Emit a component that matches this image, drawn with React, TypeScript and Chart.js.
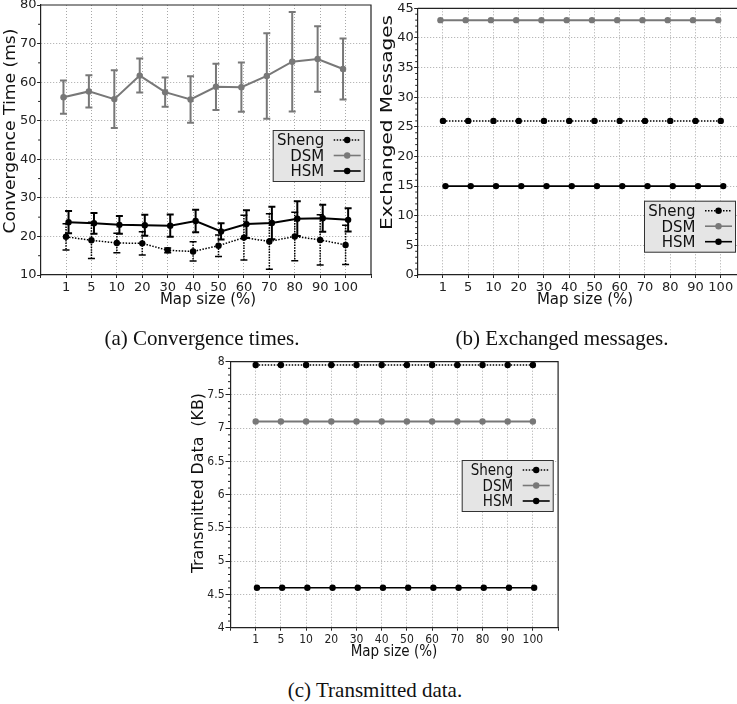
import React, { useEffect, useRef } from "react";
import { Chart, registerables } from "chart.js";

Chart.register(...registerables);

// ---------------- data ----------------
const mapSizeLabels = ["1", "5", "10", "20", "30", "40", "50", "60", "70", "80", "90", "100"];

// (a) convergence time (ms): mean and standard deviation
const convSheng = [19.9, 19.0, 18.3, 18.2, 16.4, 16.1, 17.6, 19.7, 18.7, 20.0, 19.1, 17.8];
const convShengErr = [3.4, 4.7, 2.5, 3.0, 0.6, 2.5, 2.8, 5.8, 7.2, 6.3, 6.5, 5.1];
const convDSM = [56.1, 57.6, 55.6, 61.7, 57.4, 55.5, 58.8, 58.7, 61.6, 65.3, 66.0, 63.4];
const convDSMErr = [4.3, 4.2, 7.5, 4.4, 3.8, 6.0, 6.0, 6.4, 11.1, 12.9, 8.5, 7.9];
const convHSM = [23.7, 23.4, 23.0, 22.9, 22.8, 24.0, 21.3, 23.2, 23.5, 24.6, 24.7, 24.3];
const convHSMErr = [2.9, 2.7, 2.3, 2.7, 2.9, 2.9, 2.1, 3.6, 4.2, 4.5, 3.5, 3.0];

// (b) exchanged messages
const msgSheng = [26, 26, 26, 26, 26, 26, 26, 26, 26, 26, 26, 26];
const msgDSM = [43, 43, 43, 43, 43, 43, 43, 43, 43, 43, 43, 43];
const msgHSM = [15, 15, 15, 15, 15, 15, 15, 15, 15, 15, 15, 15];

// (c) transmitted data (KB)
const kbSheng = [7.95, 7.95, 7.95, 7.95, 7.95, 7.95, 7.95, 7.95, 7.95, 7.95, 7.95, 7.95];
const kbDSM = [7.1, 7.1, 7.1, 7.1, 7.1, 7.1, 7.1, 7.1, 7.1, 7.1, 7.1, 7.1];
const kbHSM = [4.6, 4.6, 4.6, 4.6, 4.6, 4.6, 4.6, 4.6, 4.6, 4.6, 4.6, 4.6];

// ---------------- styles ----------------
const AXIS = "#222222";
const GRID = "#a8a8a8";
const SANS = '"DejaVu Sans"';
const SANS_COND = '"DejaVu Sans Condensed", "DejaVu Sans"';

type SeriesStyle = { color: string; width: number; dash: number[]; errWidth: number; errDash: number[]; radius: number };
const STYLE: Record<string, SeriesStyle> = {
  Sheng: { color: "#000000", width: 1.5, dash: [1.5, 1.5], errWidth: 1.5, errDash: [1.5, 1.2], radius: 3.2 },
  DSM: { color: "#787878", width: 2, dash: [], errWidth: 2, errDash: [], radius: 3.2 },
  HSM: { color: "#000000", width: 2, dash: [], errWidth: 2, errDash: [], radius: 3.2 },
};

type SeriesSpec = { name: string; values: number[]; err?: number[]; offset: number; width?: number };
type PanelSpec = {
  canvas: { left: number; top: number; width: number; height: number };
  area: { l: number; t: number; r: number; b: number };
  y: { min: number; max: number; step: number; minor: number; tickLen: number; tickPad: number };
  x: { tickLen: number; tickPad: number };
  tickFont: { family: string; size: number };
  titleFamily: string;
  yTitle: string;
  yTitleSize: number;
  yTitleLen: number;
  yTitlePos: [number, number];
  xTitle: string;
  xTitleSize: number;
  xTitlePos: [number, number];
  legendPos: [number, number];
  legendFontSize: number;
  series: SeriesSpec[];
};

const Y_AXIS_W = 30;
const X_AXIS_H = 20;

function lineWidthOf(s: SeriesSpec) {
  return s.width !== undefined ? s.width : STYLE[s.name].width;
}

function makeDecor(spec: PanelSpec) {
  const ox = spec.canvas.left;
  const oy = spec.canvas.top;
  return {
    id: "decor",
    beforeDatasetsDraw(chart: any) {
      const { ctx, chartArea: a, scales } = chart;
      const xs = scales.x;
      const ys = scales.y;
      ctx.save();
      // top and right frame
      ctx.strokeStyle = AXIS;
      ctx.lineWidth = 1.2;
      ctx.setLineDash([]);
      ctx.beginPath();
      ctx.moveTo(a.left, a.top);
      ctx.lineTo(a.right, a.top);
      ctx.lineTo(a.right, a.bottom);
      ctx.stroke();
      // minor y ticks
      ctx.lineWidth = 1;
      for (let k = 0; ; k++) {
        const v = spec.y.min + k * spec.y.minor;
        if (v > spec.y.max + 1e-9) break;
        const q = v / spec.y.step;
        if (Math.abs(q - Math.round(q)) < 1e-6) continue;
        const py = ys.getPixelForValue(v);
        ctx.beginPath();
        ctx.moveTo(a.left - 2.5, py);
        ctx.lineTo(a.left, py);
        ctx.stroke();
      }
      // error bars
      spec.series.forEach((s) => {
        if (!s.err) return;
        const st = STYLE[s.name];
        ctx.strokeStyle = st.color;
        ctx.lineWidth = st.errWidth;
        ctx.setLineDash(st.errDash);
        const cap = 3.5;
        s.values.forEach((v, j) => {
          const px = xs.getPixelForValue(j + 1 + s.offset);
          const yt = ys.getPixelForValue(v + s.err![j]);
          const yb = ys.getPixelForValue(v - s.err![j]);
          ctx.beginPath();
          ctx.moveTo(px, yt);
          ctx.lineTo(px, yb);
          ctx.stroke();
          ctx.setLineDash([]);
          ctx.beginPath();
          ctx.moveTo(px - cap, yt);
          ctx.lineTo(px + cap, yt);
          ctx.moveTo(px - cap, yb);
          ctx.lineTo(px + cap, yb);
          ctx.stroke();
          ctx.setLineDash(st.errDash);
        });
      });
      ctx.restore();
    },
    afterDraw(chart: any) {
      const { ctx } = chart;
      ctx.save();
      ctx.fillStyle = "#111111";
      // y title
      ctx.font = `${spec.yTitleSize}px ${spec.titleFamily}`;
      const w = ctx.measureText(spec.yTitle).width;
      const sx = spec.yTitleLen / w;
      ctx.save();
      ctx.translate(spec.yTitlePos[0] - ox, spec.yTitlePos[1] - oy);
      ctx.rotate(-Math.PI / 2);
      ctx.scale(sx, 1);
      ctx.textAlign = "center";
      ctx.textBaseline = "alphabetic";
      ctx.fillText(spec.yTitle, 0, 0);
      ctx.restore();
      // x title
      ctx.font = `${spec.xTitleSize}px ${spec.titleFamily}`;
      ctx.textAlign = "center";
      ctx.textBaseline = "alphabetic";
      ctx.fillText(spec.xTitle, spec.xTitlePos[0] - ox, spec.xTitlePos[1] - oy);
      // legend
      const lx = spec.legendPos[0] - ox;
      const ly = spec.legendPos[1] - oy;
      ctx.fillStyle = "#e5e5e5";
      ctx.fillRect(lx, ly, 92, 52);
      ctx.strokeStyle = "#333333";
      ctx.lineWidth = 1;
      ctx.strokeRect(lx + 0.5, ly + 0.5, 91, 51);
      const rows = [10, 25.5, 41];
      ctx.font = `${spec.legendFontSize}px ${spec.titleFamily}`;
      spec.series.forEach((s, i) => {
        const st = STYLE[s.name];
        const ry = ly + rows[i];
        ctx.fillStyle = "#111111";
        ctx.textAlign = "right";
        ctx.textBaseline = "alphabetic";
        ctx.fillText(s.name, lx + 51.5, ry + 5.3);
        ctx.strokeStyle = st.color;
        ctx.lineWidth = Math.min(lineWidthOf(s), 1.6);
        ctx.setLineDash(st.dash);
        ctx.beginPath();
        ctx.moveTo(lx + 61, ry);
        ctx.lineTo(lx + 88, ry);
        ctx.stroke();
        ctx.setLineDash([]);
        ctx.fillStyle = st.color;
        ctx.beginPath();
        ctx.arc(lx + 74.5, ry, st.radius, 0, Math.PI * 2);
        ctx.fill();
      });
      ctx.restore();
    },
  };
}

function Panel({ spec }: { spec: PanelSpec }) {
  const ref = useRef<HTMLCanvasElement | null>(null);
  useEffect(() => {
    if (!ref.current) return;
    const { canvas: c, area } = spec;
    const padding = {
      left: area.l - c.left - Y_AXIS_W,
      top: area.t - c.top,
      right: c.left + c.width - area.r,
      bottom: c.top + c.height - area.b - X_AXIS_H,
    };
    const datasets = spec.series.map((s) => {
      const st = STYLE[s.name];
      return {
        label: s.name,
        data: s.values.map((v, j) => ({ x: j + 1 + s.offset, y: v })),
        borderColor: st.color,
        backgroundColor: st.color,
        borderWidth: lineWidthOf(s),
        borderDash: st.dash,
        pointRadius: st.radius,
        pointBackgroundColor: st.color,
        pointBorderColor: st.color,
        pointBorderWidth: 0,
        tension: 0,
        fill: false,
      };
    });
    const yMin = spec.y.min;
    const yMax = spec.y.max;
    const chart = new Chart(ref.current, {
      type: "line",
      data: { datasets } as any,
      options: {
        responsive: false,
        maintainAspectRatio: false,
        devicePixelRatio: 1,
        animation: false,
        events: [],
        layout: { padding },
        plugins: { legend: { display: false }, tooltip: { enabled: false }, title: { display: false } },
        scales: {
          x: {
            type: "linear",
            min: 0,
            max: mapSizeLabels.length + 1,
            afterFit: (s: any) => {
              s.height = X_AXIS_H;
            },
            ticks: {
              stepSize: 1,
              autoSkip: false,
              maxRotation: 0,
              minRotation: 0,
              padding: spec.x.tickPad,
              color: AXIS,
              font: spec.tickFont,
              callback: (v: any) => {
                const i = Math.round(Number(v)) - 1;
                return i >= 0 && i < mapSizeLabels.length ? mapSizeLabels[i] : "";
              },
            },
            grid: {
              color: (ctx: any) => {
                const v = ctx.tick ? ctx.tick.value : 0;
                return v > 0 && v < mapSizeLabels.length + 1 ? GRID : "rgba(0,0,0,0)";
              },
              lineWidth: 1,
              tickColor: AXIS,
              tickLength: spec.x.tickLen,
            },
            border: { display: true, color: AXIS, width: 1.2, dash: [1, 2] },
          },
          y: {
            type: "linear",
            min: yMin,
            max: yMax,
            afterFit: (s: any) => {
              s.width = Y_AXIS_W;
            },
            ticks: {
              stepSize: spec.y.step,
              padding: spec.y.tickPad,
              color: AXIS,
              font: spec.tickFont,
              callback: (v: any) => String(Math.round(Number(v) * 100) / 100),
            },
            grid: {
              color: (ctx: any) => {
                const v = ctx.tick ? ctx.tick.value : yMin;
                return v > yMin + 1e-9 && v < yMax - 1e-9 ? GRID : "rgba(0,0,0,0)";
              },
              lineWidth: 1,
              tickColor: AXIS,
              tickLength: spec.y.tickLen,
            },
            border: { display: true, color: AXIS, width: 1.2, dash: [1, 2] },
          },
        },
      } as any,
      plugins: [makeDecor(spec) as any],
    });
    return () => chart.destroy();
  }, [spec]);
  const { canvas: c } = spec;
  return (
    <canvas
      ref={ref}
      width={c.width}
      height={c.height}
      style={{ position: "absolute", left: c.left, top: c.top, width: c.width, height: c.height }}
    />
  );
}

const panelA: PanelSpec = {
  canvas: { left: 0, top: -10, width: 380, height: 320 },
  area: { l: 40.6, t: 5, r: 371, b: 275 },
  y: { min: 10, max: 80, step: 10, minor: 5, tickLen: 3.5, tickPad: 0.5 },
  x: { tickLen: 3, tickPad: 2 },
  tickFont: { family: SANS, size: 13 },
  titleFamily: SANS,
  yTitle: "Convergence Time (ms)",
  yTitleSize: 16,
  yTitleLen: 205,
  yTitlePos: [14.5, 131],
  xTitle: "Map size (%)",
  xTitleSize: 15,
  xTitlePos: [208, 304],
  legendPos: [272.7, 130],
  legendFontSize: 15,
  series: [
    { name: "Sheng", values: convSheng, err: convShengErr, offset: 0 },
    { name: "DSM", values: convDSM, err: convDSMErr, offset: -0.1 },
    { name: "HSM", values: convHSM, err: convHSMErr, offset: 0.1 },
  ],
};

const panelB: PanelSpec = {
  canvas: { left: 380, top: -10, width: 380, height: 320 },
  area: { l: 417.7, t: 8.3, r: 746, b: 275 },
  y: { min: 0, max: 45, step: 5, minor: 1, tickLen: 3.5, tickPad: 0.5 },
  x: { tickLen: 3, tickPad: 2 },
  tickFont: { family: SANS, size: 13 },
  titleFamily: SANS,
  yTitle: "Exchanged Messages",
  yTitleSize: 16,
  yTitleLen: 215,
  yTitlePos: [391.5, 122.5],
  xTitle: "Map size (%)",
  xTitleSize: 15,
  xTitlePos: [585, 304],
  legendPos: [644, 200.7],
  legendFontSize: 15,
  series: [
    { name: "Sheng", values: msgSheng, offset: 0 },
    { name: "DSM", values: msgDSM, offset: -0.1 },
    { name: "HSM", values: msgHSM, offset: 0.1, width: 1.6 },
  ],
};

const panelC: PanelSpec = {
  canvas: { left: 190, top: 345, width: 380, height: 320 },
  area: { l: 230.5, t: 361.7, r: 558.1, b: 627.7 },
  y: { min: 4, max: 8, step: 0.5, minor: 0.1, tickLen: 5, tickPad: 1 },
  x: { tickLen: 3, tickPad: 2 },
  tickFont: { family: SANS_COND, size: 12 },
  titleFamily: SANS_COND,
  yTitle: "Transmitted Data  (KB)",
  yTitleSize: 16,
  yTitleLen: 180,
  yTitlePos: [203, 483],
  xTitle: "Map size (%)",
  xTitleSize: 15,
  xTitlePos: [394, 656],
  legendPos: [461.7, 460],
  legendFontSize: 15,
  series: [
    { name: "Sheng", values: kbSheng, offset: 0 },
    { name: "DSM", values: kbDSM, offset: 0 },
    { name: "HSM", values: kbHSM, offset: 0.05, width: 1.6 },
  ],
};

const captionStyle = (cx: number, cy: number): React.CSSProperties => ({
  position: "absolute",
  left: cx,
  top: cy - 12,
  transform: "translateX(-50%)",
  whiteSpace: "nowrap",
  fontFamily: '"Liberation Serif", "Times New Roman", serif',
  fontSize: 21,
  lineHeight: "24px",
  color: "#111",
});

export default function App() {
  return (
    <div
      style={{
        position: "absolute",
        left: 0,
        top: 0,
        width: 737,
        height: 704,
        overflow: "hidden",
        background: "#ffffff",
      }}
    >
      <Panel spec={panelA} />
      <Panel spec={panelB} />
      <Panel spec={panelC} />
      <div style={captionStyle(202, 338)}>(a) Convergence times.</div>
      <div style={captionStyle(562, 338)}>(b) Exchanged messages.</div>
      <div style={captionStyle(375, 690)}>(c) Transmitted data.</div>
    </div>
  );
}
